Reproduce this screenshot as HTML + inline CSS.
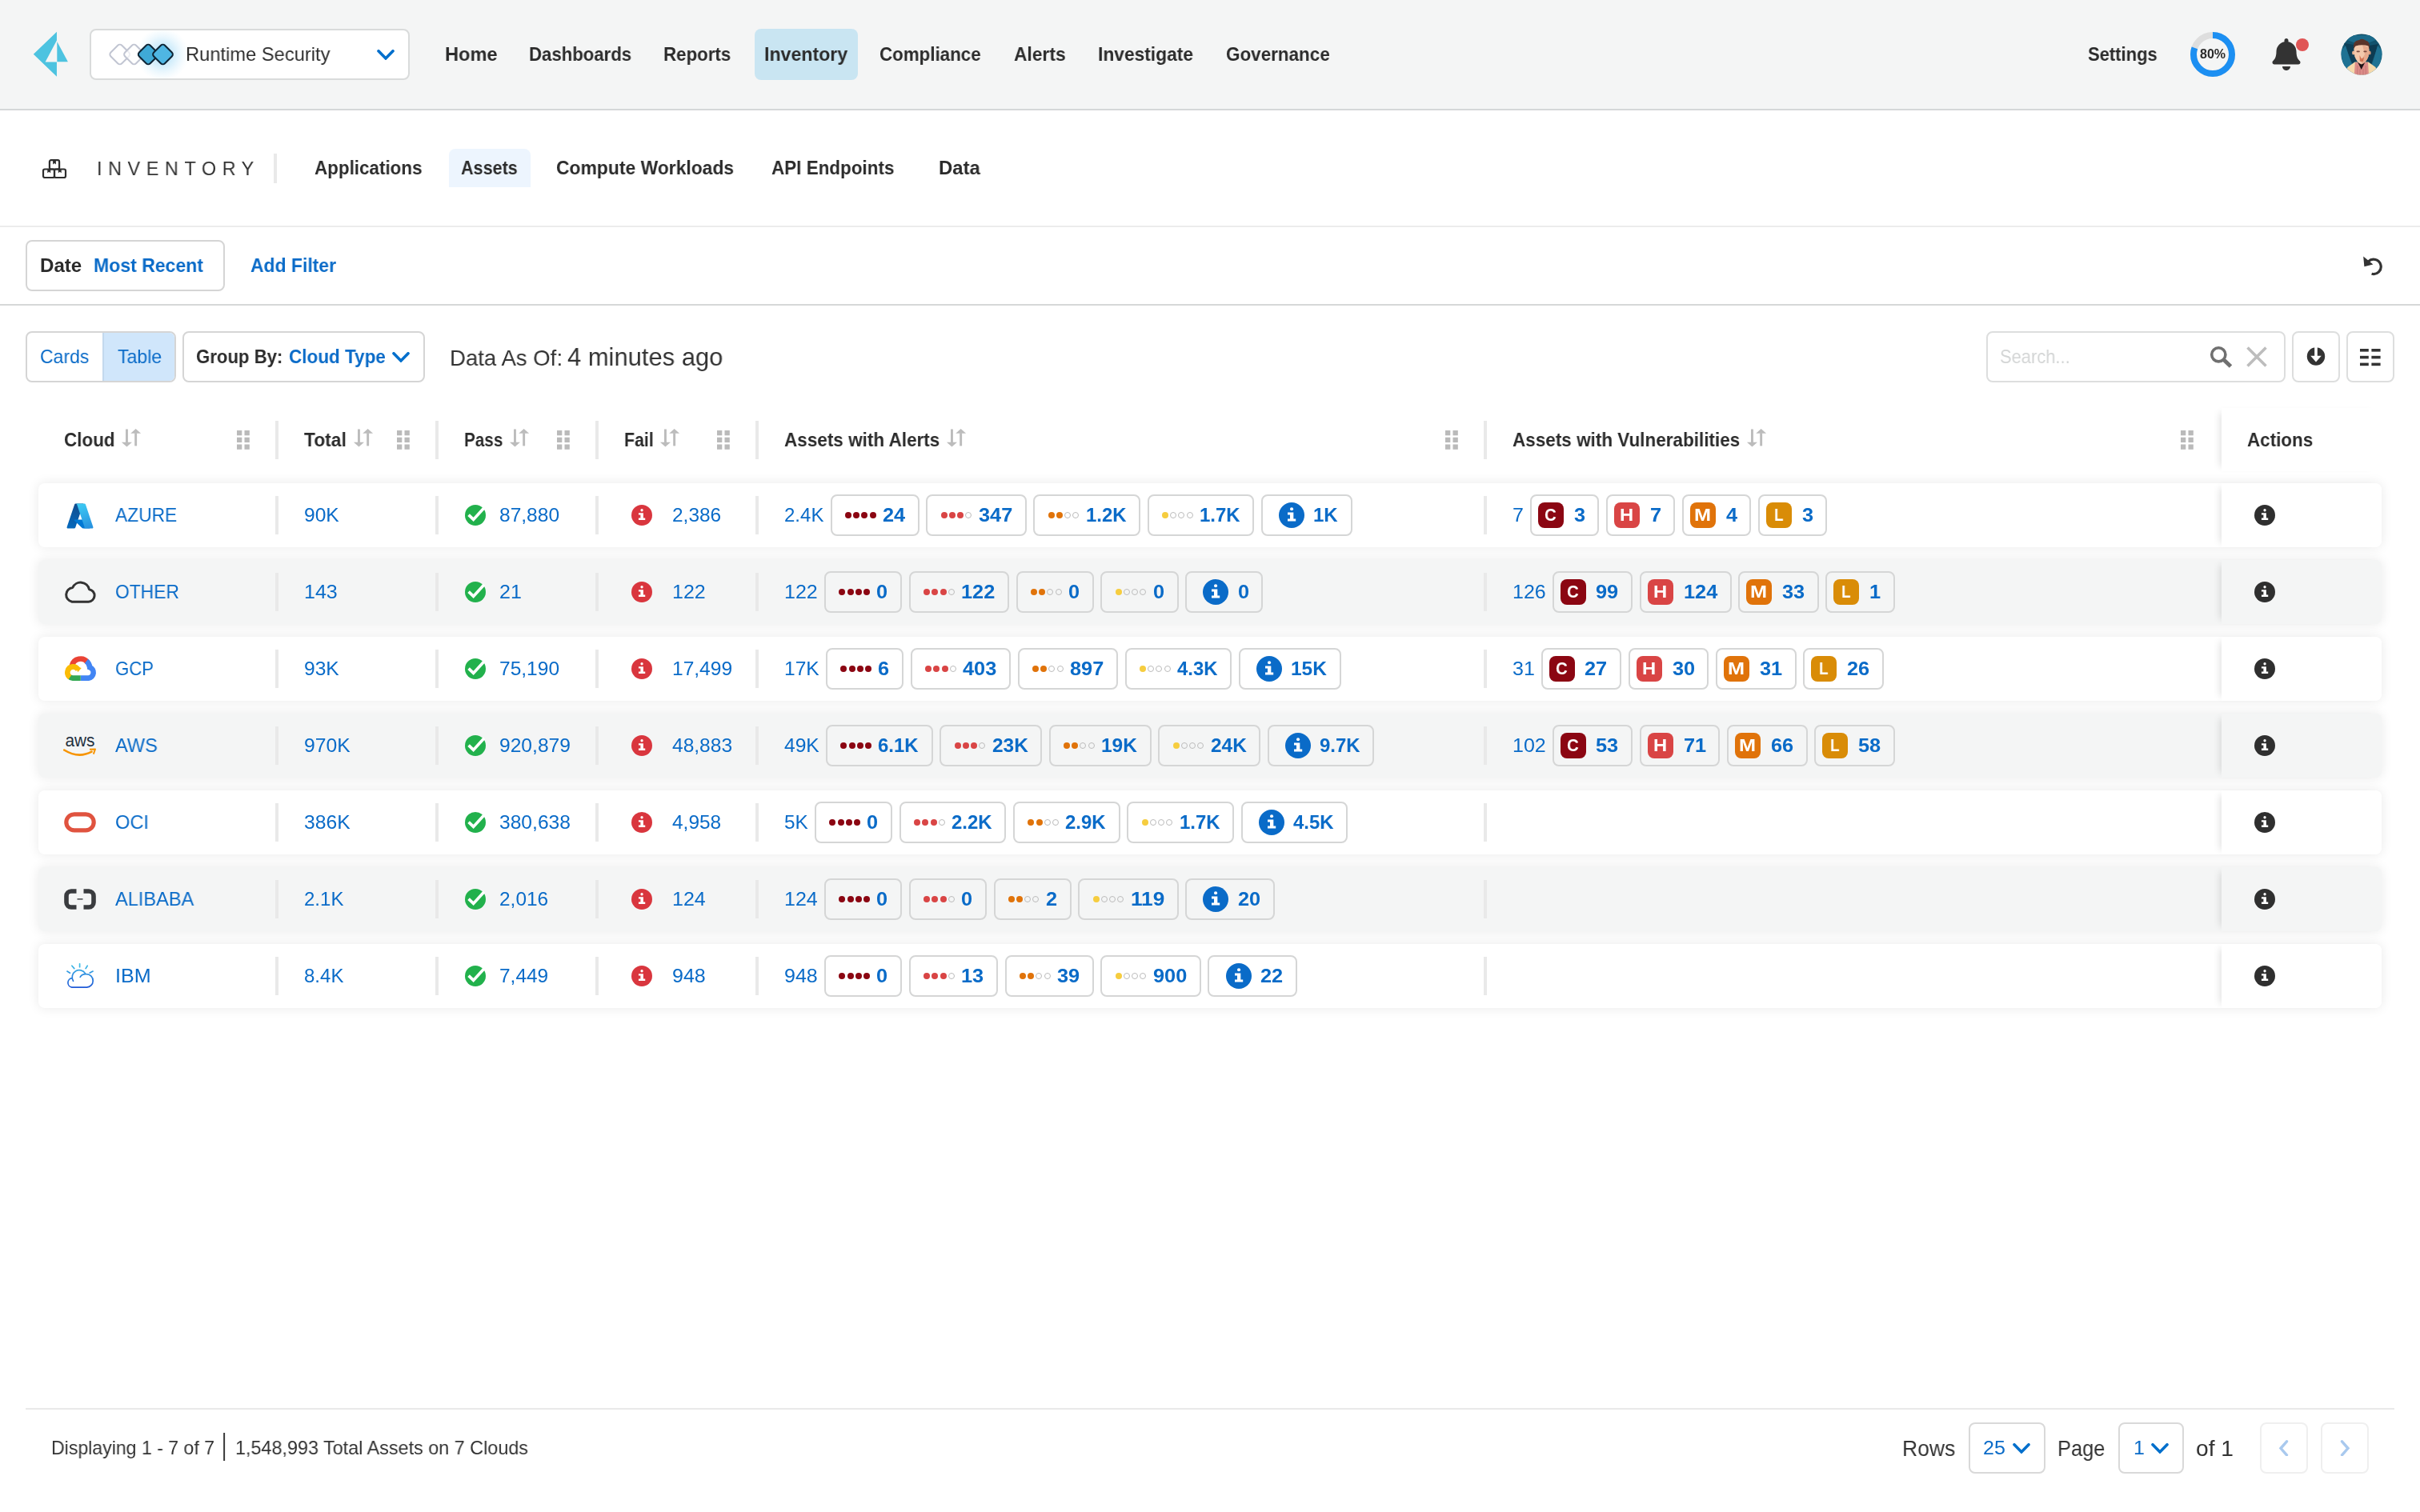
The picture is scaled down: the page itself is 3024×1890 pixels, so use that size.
<!DOCTYPE html>
<html lang="en"><head><meta charset="utf-8"><title>Inventory - Assets</title>
<style>
*{box-sizing:border-box;margin:0;padding:0}
html,body{width:3024px;height:1890px;overflow:hidden;background:#fff}
@media (max-width:1600px){html{zoom:.5}}
body{font-family:"Liberation Sans",sans-serif;font-size:24px;color:#333;position:relative;-webkit-font-smoothing:antialiased}
a{color:inherit;text-decoration:none}
.t{display:inline-block;white-space:nowrap;line-height:1.2;flex:none;position:relative;top:0.8px;left:0.6px}
.t>i{display:inline-block;font-style:normal;transform-origin:0 50%;will-change:transform}
.abs{position:absolute}
.fx{display:flex;align-items:center}
svg{display:block;flex:none}
.box{position:absolute;border:2px solid #d6d7d7;border-radius:8px;background:#fff}
/* top bar */
.top{position:absolute;left:0;top:0;width:3024px;height:138px;background:#f4f5f5;border-bottom:2px solid #d5d7d8}
.top .logo{position:absolute;left:40px;top:38px}
.product{left:112px;top:36px;width:400px;height:64px;border-color:#d9dbdb}
.product .diamonds{position:absolute;left:0;top:0}
.navi{position:absolute;top:36px;height:64px;display:flex;align-items:center}
.navi.on{background:#c9e5f2;border-radius:8px}
.dot{position:absolute;left:2869px;top:48px;width:16px;height:16px;border-radius:50%;background:#e05555}
/* sub nav */
.subnav{position:absolute;left:0;top:138px;width:3024px;height:146px;border-bottom:2px solid #ececec;background:#fff}
.subnav .it{position:absolute;top:48px;height:48px;display:flex;align-items:center}
.subnav .it.on{background:#edf5fe;border-radius:8px 8px 0 0}
.vsep{position:absolute;width:4px;background:#e9e9e9}
/* filter bar */
.filterbar{position:absolute;left:0;top:284px;width:3024px;height:98px;border-bottom:2px solid #d6d8d8;background:#fff}
/* toolbar */
.toolbar{position:absolute;left:0;top:382px;width:3024px;height:128px}
.seg{position:absolute;top:0;height:60px;display:flex;align-items:center}
/* table */
.thead{position:absolute;left:48px;top:510px;width:2928px;height:80px}
.th{position:absolute;top:0;height:80px;display:flex;align-items:center}
.th .sort{margin-left:9.5px;margin-top:-7px;overflow:visible}
.th .drag{position:absolute;top:28px}
.row{position:absolute;left:48px;width:2928px;height:80px;border-radius:8px;background:#fff;box-shadow:0 0 14px 1px rgba(0,0,0,.08)}
.row.alt{background:#f4f5f5}
.cell{position:absolute;top:0;height:80px;display:flex;align-items:center}
.row .vsep{top:16px;height:48px}
.thead .vsep{top:16px;height:48px}
.bd{display:flex;align-items:center;height:52px;border:2px solid #d5d6d6;border-radius:8px;margin-left:8.6px;padding:0 16.3px 0 16.4px;flex:none}
.dots{display:flex;align-items:center;width:46.4px;flex:none}
.dots b{display:block;width:8px;height:8px;border-radius:50%;margin-right:2.2px;flex:none}
.dots b.h{background:transparent;border:1.7px solid #bcbcbc}
.bd .ci{margin-left:3.8px;margin-right:10.6px}
.bd.v{padding-left:8px}
.sq{width:32px;height:32px;border-radius:8px;margin-right:12px;display:flex;align-items:center;justify-content:center;color:#fff;flex:none}
.act{position:absolute;left:2728px;top:0;width:200px;height:80px;background:inherit;border-radius:0 8px 8px 0;box-shadow:-8px 0 10px -6px rgba(0,0,0,.12)}
.thead .act{top:0;height:79px;background:#fff}
/* footer */
.foot{position:absolute;left:32px;top:1760px;width:2960px;height:130px;border-top:2px solid #e9e9e9}
.foot .fi{position:absolute;top:16px;height:64px;display:flex;align-items:center}
</style></head>
<body>
<header class="top">
<svg class="logo" width="48" height="60" viewBox="0 0 48 60"><polygon points="1.8,29.7 30.95,1.8 30.95,12.6 16.6,39.5 30.95,39.5 30.95,57.8" fill="#4dc3e0"/><polygon points="31.3,14.1 44.9,39.2 31.3,39.2" fill="#4dc3e0"/></svg>
<div class="box product"><svg class="diamonds" width="130" height="60" viewBox="0 0 130 60"><defs><radialGradient id="glow"><stop offset="0" stop-color="#6cc4f2" stop-opacity=".62"/><stop offset=".55" stop-color="#8fd3f6" stop-opacity=".28"/><stop offset="1" stop-color="#bfe6fb" stop-opacity="0"/></radialGradient></defs><circle cx="89" cy="30" r="33" fill="url(#glow)"/><rect x="25.95" y="20.20" width="19.6" height="19.6" rx="3.6" transform="rotate(45 35.75 30)" fill="rgba(255,255,255,.7)" stroke="#c1c5d2" stroke-width="2"/><rect x="43.70" y="20.20" width="19.6" height="19.6" rx="3.6" transform="rotate(45 53.5 30)" fill="rgba(255,255,255,.7)" stroke="#c1c5d2" stroke-width="2"/><rect x="61.40" y="20.20" width="19.6" height="19.6" rx="3.6" transform="rotate(45 71.2 30)" fill="#3fa9d6" stroke="#0e2435" stroke-width="2"/><rect x="79.70" y="20.20" width="19.6" height="19.6" rx="3.6" transform="rotate(45 89.5 30)" fill="#4fb6e3" stroke="#0e2435" stroke-width="2"/></svg>
<div class="abs fx" style="left:117.6px;top:0;height:60px"><span class="t" style="width:180.4px;font-size:24px;color:#2e2e2e;"><i style="transform:scaleX(0.9873)">Runtime Security</i></span></div>
<div class="abs" style="left:357px;top:24px"><svg class="chev" width="22" height="13" viewBox="0 0 22 13"><polyline points="2.0,1.8 11.0,10.9 20.0,1.8" fill="none" stroke="#006fcc" stroke-width="3.6" stroke-linecap="round" stroke-linejoin="miter"/></svg></div>
</div>
<nav>
<a class="navi" style="left:555px"><span class="t" style="width:65.6px;font-size:24px;font-weight:700;color:#2b2b2b;"><i style="transform:scaleX(0.9838)">Home</i></span></a>
<a class="navi" style="left:660px"><span class="t" style="width:128.1px;font-size:24px;font-weight:700;color:#2b2b2b;"><i style="transform:scaleX(0.9238)">Dashboards</i></span></a>
<a class="navi" style="left:828.3px"><span class="t" style="width:84.3px;font-size:24px;font-weight:700;color:#2b2b2b;"><i style="transform:scaleX(0.9295)">Reports</i></span></a>
<a class="navi on" style="left:943px;width:129px;padding-left:11.2px"><span class="t" style="width:104.1px;font-size:24px;font-weight:700;color:#2b2b2b;"><i style="transform:scaleX(0.9640)">Inventory</i></span></a>
<a class="navi" style="left:1098.8px"><span class="t" style="width:126.6px;font-size:24px;font-weight:700;color:#2b2b2b;"><i style="transform:scaleX(0.9306)">Compliance</i></span></a>
<a class="navi" style="left:1266px"><span class="t" style="width:64.6px;font-size:24px;font-weight:700;color:#2b2b2b;"><i style="transform:scaleX(0.9499)">Alerts</i></span></a>
<a class="navi" style="left:1371.5px"><span class="t" style="width:119.0px;font-size:24px;font-weight:700;color:#2b2b2b;"><i style="transform:scaleX(0.9493)">Investigate</i></span></a>
<a class="navi" style="left:1531px"><span class="t" style="width:129.7px;font-size:24px;font-weight:700;color:#2b2b2b;"><i style="transform:scaleX(0.9350)">Governance</i></span></a>
</nav>
<a class="navi" style="left:2608.8px"><span class="t" style="width:86.8px;font-size:24px;font-weight:700;color:#2b2b2b;"><i style="transform:scaleX(0.9165)">Settings</i></span></a>
<div class="abs" style="left:2737px;top:40px;width:56px;height:56px"><svg class="ring" width="56" height="56" viewBox="0 0 56 56"><circle cx="28" cy="28" r="24" fill="none" stroke="#dedede" stroke-width="8"/><circle cx="28" cy="28" r="24" fill="none" stroke="#1c8ff2" stroke-width="8" stroke-dasharray="120.64 150.80" transform="rotate(-90 28 28)"/></svg><div class="abs fx" style="left:0;top:0;width:56px;height:56px;justify-content:center"><span class="t" style="width:32.1px;font-size:16px;font-weight:700;color:#2b2b2b;top:0;left:0;"><i style="transform:scaleX(1.0006)">80%</i></span></div></div>
<div class="abs" style="left:2838.7px;top:48px"><svg class="bell" width="36" height="40" viewBox="0 0 448 512"><path fill="#333" d="M224 512c35.32 0 63.97-28.65 63.97-64H160.03c0 35.35 28.65 64 63.97 64zm215.39-149.71c-19.32-20.76-55.47-51.99-55.47-154.29 0-77.7-54.48-139.9-127.94-155.16V32c0-17.67-14.32-32-31.98-32s-31.98 14.33-31.98 32v20.84C118.56 68.1 64.08 130.3 64.08 208c0 102.3-36.15 133.53-55.47 154.29-6 6.45-8.66 14.16-8.61 21.71.11 16.4 12.98 32 32.1 32h383.8c19.12 0 32-15.6 32.1-32 .05-7.55-2.61-15.27-8.61-21.71z"/></svg></div><span class="dot"></span>
<div class="abs" style="left:2924.5px;top:42px"><svg class="avatar" width="52" height="52" viewBox="0 0 52 52"><defs><clipPath id="avc"><circle cx="26" cy="26" r="25.600"/></clipPath><linearGradient id="avg" x1="0" y1="0" x2="0" y2="1"><stop offset="0" stop-color="#0f4a63"/><stop offset="1" stop-color="#1d6f90"/></linearGradient></defs><g clip-path="url(#avc)"><rect width="52" height="52" fill="url(#avg)"/><polygon points="4,12 17,14 27,36 16,42" fill="#0e3f57"/><polygon points="47,13 35,15 26,36 37,42" fill="#0d3b52"/><polygon points="8,8 26,15 44,8 38,2 14,2" fill="#1b6a8a"/><polygon points="0,22 6,15 14,40 4,44" fill="#1f7293"/><polygon points="52,22 46,15 39,40 48,44" fill="#1f7293"/><path d="M5 52L8.500 42L17.500 35.500L34.500 35.500L43.500 42L47 52z" fill="#f6d9ab"/><path d="M16.800 52L17.800 36L34 36L35 52z" fill="#dc8c88"/><path d="M20.500 52L21 40M24 52L24 44M28 52L28 44M31.500 52L31 40" stroke="#c97a78" stroke-width="1.200" fill="none"/><path d="M21.500 36.500L25.700 45L30 36.500L29 31L22.500 31z" fill="#1d1215"/><ellipse cx="15.800" cy="24" rx="1.700" ry="2.600" fill="#e9b595"/><ellipse cx="36" cy="24" rx="1.700" ry="2.600" fill="#d99a7c"/><path d="M16.300 19Q16.300 10 25.500 10Q35.600 10 35.600 20L34.600 28.500Q31.500 37 25.800 38.600Q20.500 37 17.300 28.500z" fill="#f3c8ab"/><path d="M27 14L35 17L34.600 28.500Q31.500 37 25.800 38.600L27.500 30L30 26z" fill="#e3a284" opacity=".75"/><path d="M23.500 27L26 31.500L29 29.500L28 34.500Q26 36 23.800 34.200z" fill="#c9603f" opacity=".8"/><path d="M16 19Q14.500 8.500 23 8Q27 5.500 31 8.500Q37.500 10 35.800 20L34.500 15.500Q29 13.500 22.500 14.500L18.500 15.500z" fill="#5a342a"/><rect x="19.600" y="21.600" width="4.200" height="1.700" rx=".8" fill="#7a4a3e"/><rect x="28.400" y="21.600" width="4.200" height="1.700" rx=".8" fill="#7a4a3e"/></g></svg></div>
</header>
<div class="subnav">
<div class="abs" style="left:52px;top:59.6px"><svg class="invicon" width="32" height="26" viewBox="0 0 32 26"><g fill="none" stroke="#2e2e2e" stroke-width="2.200" stroke-linejoin="round"><rect x="2" y="13.500" width="14" height="10.500" rx="2"/><rect x="16" y="13.500" width="14" height="10.500" rx="2"/><rect x="9.900" y="2.200" width="12.200" height="11.300" rx="2"/></g><g fill="#2e2e2e"><polygon points="14.1,2.6 17.9,2.6 17.9,7.6 16.0,6.1 14.1,7.6"/><polygon points="7.3,13.8 11.2,13.8 11.2,18.3 9.25,16.8 7.3,18.3"/><polygon points="20.8,13.8 24.7,13.8 24.7,18.3 22.75,16.8 20.8,18.3"/></g></svg></div>
<div class="it" style="left:119.5px"><span class="t" style="width:203.9px;font-size:24px;color:#333;letter-spacing:7.81px;top:1.4px;left:1.2px;"><i style="transform:scaleX(0.9734)">INVENTORY</i></span></div>
<div class="vsep" style="left:342px;top:54px;height:37px"></div>
<a class="it" style="left:392.5px"><span class="t" style="width:134.5px;font-size:24px;font-weight:700;color:#2b2b2b;"><i style="transform:scaleX(0.9337)">Applications</i></span></a>
<a class="it on" style="left:561px;width:102px;padding-left:14.0px"><span class="t" style="width:70.8px;font-size:24px;font-weight:700;color:#2b2b2b;"><i style="transform:scaleX(0.8991)">Assets</i></span></a>
<a class="it" style="left:694px"><span class="t" style="width:222.1px;font-size:24px;font-weight:700;color:#2b2b2b;"><i style="transform:scaleX(0.9534)">Compute Workloads</i></span></a>
<a class="it" style="left:963.5px"><span class="t" style="width:153.3px;font-size:24px;font-weight:700;color:#2b2b2b;"><i style="transform:scaleX(0.9351)">API Endpoints</i></span></a>
<a class="it" style="left:1172px"><span class="t" style="width:51.7px;font-size:24px;font-weight:700;color:#2b2b2b;"><i style="transform:scaleX(0.9935)">Data</i></span></a>
</div>
<div class="filterbar">
<div class="box fx" style="left:32px;top:16px;width:249px;height:64px;border-color:#d5d5d5"><span class="abs fx" style="left:15.4px;top:0;height:60px"><span class="t" style="width:52.2px;font-size:24px;font-weight:700;color:#2b2b2b;"><i style="transform:scaleX(1.0041)">Date</i></span></span><span class="abs fx" style="left:82.7px;top:0;height:60px"><span class="t" style="width:137.0px;font-size:24px;font-weight:700;color:#0a6bc8;"><i style="transform:scaleX(0.9598)">Most Recent</i></span></span></div>
<a class="abs fx" style="left:312px;top:16px;height:64px"><span class="t" style="width:107.0px;font-size:24px;font-weight:700;color:#0a6bc8;"><i style="transform:scaleX(0.9552)">Add Filter</i></span></a>
<div class="abs" style="left:2951.5px;top:35.5px"><svg class="undo" width="26" height="26" viewBox="0 0 26 26"><path d="M7.500 6.900A9.200 9.200 0 1 1 11.600 22.300" fill="none" stroke="#333" stroke-width="3.200"/><polygon points="1.200,0.600 2.400,13.200 13.400,10.400" fill="#333"/></svg></div>
</div>
<div class="toolbar">
<div class="box" style="left:32px;top:32px;width:188px;height:64px;border-color:#d5d5d5;overflow:hidden"><a class="seg" style="left:0;width:94px;padding-left:15.6px"><span class="t" style="width:61.3px;font-size:24px;color:#0a6bc8;"><i style="transform:scaleX(0.9573)">Cards</i></span></a><a class="seg" style="left:94px;width:90px;background:#d0e6fb;border-left:2px solid #c3d9ee;padding-left:16.2px"><span class="t" style="width:55.1px;font-size:24px;color:#0a6bc8;"><i style="transform:scaleX(0.9611)">Table</i></span></a></div>
<div class="box" style="left:228px;top:32px;width:303px;height:64px;border-color:#d5d5d5"><span class="seg" style="left:14.6px"><span class="t" style="width:108.3px;font-size:24px;font-weight:700;color:#2b2b2b;"><i style="transform:scaleX(0.9232)">Group By:</i></span></span><span class="seg" style="left:130.2px"><span class="t" style="width:120.8px;font-size:24px;font-weight:700;color:#0a6bc8;"><i style="transform:scaleX(0.9373)">Cloud Type</i></span></span><span class="abs" style="left:260px;top:24px"><svg class="chev" width="22" height="13" viewBox="0 0 22 13"><polyline points="2.0,1.8 11.0,10.9 20.0,1.8" fill="none" stroke="#006fcc" stroke-width="3.6" stroke-linecap="round" stroke-linejoin="miter"/></svg></span></div>
<div class="abs" style="left:561.5px;top:44.7px;display:flex;align-items:baseline"><span class="t" style="width:141.0px;font-size:28px;color:#333;"><i style="transform:scaleX(0.9848)">Data As Of:</i></span><span style="width:5.6px;flex:none"></span><span class="t" style="width:194.3px;font-size:32px;color:#333;"><i style="transform:scaleX(0.9666)">4 minutes ago</i></span></div>
<div class="box" style="left:2482px;top:32px;width:374px;height:64px;border-color:#dddede"><span class="seg" style="left:14.8px"><span class="t" style="width:87.6px;font-size:24px;color:#d3d5d5;"><i style="transform:scaleX(0.9125)">Search...</i></span></span><span class="abs" style="left:277px;top:15.5px"><svg width="30" height="29" viewBox="0 0 30 29"><circle cx="11.300" cy="11.300" r="8.600" fill="none" stroke="#707070" stroke-width="3.600"/><line x1="17.800" y1="17.800" x2="26.500" y2="26" stroke="#707070" stroke-width="5" stroke-linecap="butt"/></svg></span><span class="abs" style="left:323px;top:17px"><svg width="26" height="26" viewBox="0 0 26 26"><path d="M1.500 1.500L24.500 24.500M24.500 1.500L1.500 24.500" stroke="#bdbdbd" stroke-width="3.600" fill="none"/></svg></span></div>
<div class="box" style="left:2864px;top:32px;width:60px;height:64px;border-color:#dddede"><span class="abs" style="left:15.7px;top:17.2px"><svg width="24" height="24" viewBox="0 0 24 24"><circle cx="12" cy="12.500" r="11.200" fill="#333"/><rect x="10.200" y="0" width="3.600" height="13" fill="#fff"/><polygon points="5.200,11.800 18.800,11.800 12,19.400" fill="#fff"/></svg></span></div>
<div class="box" style="left:2932px;top:32px;width:60px;height:64px;border-color:#dddede"><span class="abs" style="left:15.2px;top:19.5px"><svg width="26" height="22" viewBox="0 0 26 22"><g fill="#333"><rect x="0" y="0" width="10.800" height="3.600"/><rect x="14.400" y="0" width="11.200" height="3.600"/><rect x="0" y="8.800" width="10.800" height="3.600"/><rect x="14.400" y="8.800" width="11.200" height="3.600"/><rect x="0" y="17.600" width="10.800" height="3.600"/><rect x="14.400" y="17.600" width="11.200" height="3.600"/></g></svg></span></div>
</div>
<div class="thead">
<div class="th" style="left:31.3px"><span class="t" style="width:63.6px;font-size:24px;font-weight:700;color:#2b2b2b;"><i style="transform:scaleX(0.9348)">Cloud</i></span><svg class="sort" width="25" height="25" viewBox="0 0 25 25"><g fill="#bcbcbc"><rect x="5" y="2.500" width="2.900" height="16.800"/><polygon points="-0.100,18.800 13,18.800 6.450,24.400"/><rect x="16.200" y="7.200" width="2.900" height="16.200"/><polygon points="11.200,7.700 24.100,7.700 17.650,1.900"/></g></svg></div>
<span class="abs" style="left:248px;top:28px"><svg class="drag" width="16" height="24" viewBox="0 0 16 24"><g fill="#bababa"><rect x="0" y="0" width="6.300" height="6.300"/><rect x="9.5" y="0" width="6.300" height="6.300"/><rect x="0" y="8.75" width="6.300" height="6.300"/><rect x="9.5" y="8.75" width="6.300" height="6.300"/><rect x="0" y="17.5" width="6.300" height="6.300"/><rect x="9.5" y="17.5" width="6.300" height="6.300"/></g></svg></span>
<div class="th" style="left:331.3px"><span class="t" style="width:52.8px;font-size:24px;font-weight:700;color:#2b2b2b;"><i style="transform:scaleX(0.9499)">Total</i></span><svg class="sort" width="25" height="25" viewBox="0 0 25 25"><g fill="#bcbcbc"><rect x="5" y="2.500" width="2.900" height="16.800"/><polygon points="-0.100,18.800 13,18.800 6.450,24.400"/><rect x="16.200" y="7.200" width="2.900" height="16.200"/><polygon points="11.200,7.700 24.100,7.700 17.650,1.900"/></g></svg></div>
<span class="abs" style="left:448px;top:28px"><svg class="drag" width="16" height="24" viewBox="0 0 16 24"><g fill="#bababa"><rect x="0" y="0" width="6.300" height="6.300"/><rect x="9.5" y="0" width="6.300" height="6.300"/><rect x="0" y="8.75" width="6.300" height="6.300"/><rect x="9.5" y="8.75" width="6.300" height="6.300"/><rect x="0" y="17.5" width="6.300" height="6.300"/><rect x="9.5" y="17.5" width="6.300" height="6.300"/></g></svg></span>
<div class="th" style="left:531.3px"><span class="t" style="width:48.3px;font-size:24px;font-weight:700;color:#2b2b2b;"><i style="transform:scaleX(0.8622)">Pass</i></span><svg class="sort" width="25" height="25" viewBox="0 0 25 25"><g fill="#bcbcbc"><rect x="5" y="2.500" width="2.900" height="16.800"/><polygon points="-0.100,18.800 13,18.800 6.450,24.400"/><rect x="16.200" y="7.200" width="2.900" height="16.200"/><polygon points="11.200,7.700 24.100,7.700 17.650,1.900"/></g></svg></div>
<span class="abs" style="left:648px;top:28px"><svg class="drag" width="16" height="24" viewBox="0 0 16 24"><g fill="#bababa"><rect x="0" y="0" width="6.300" height="6.300"/><rect x="9.5" y="0" width="6.300" height="6.300"/><rect x="0" y="8.75" width="6.300" height="6.300"/><rect x="9.5" y="8.75" width="6.300" height="6.300"/><rect x="0" y="17.5" width="6.300" height="6.300"/><rect x="9.5" y="17.5" width="6.300" height="6.300"/></g></svg></span>
<div class="th" style="left:731.3px"><span class="t" style="width:36.7px;font-size:24px;font-weight:700;color:#2b2b2b;"><i style="transform:scaleX(0.8866)">Fail</i></span><svg class="sort" width="25" height="25" viewBox="0 0 25 25"><g fill="#bcbcbc"><rect x="5" y="2.500" width="2.900" height="16.800"/><polygon points="-0.100,18.800 13,18.800 6.450,24.400"/><rect x="16.200" y="7.200" width="2.900" height="16.200"/><polygon points="11.200,7.700 24.100,7.700 17.650,1.900"/></g></svg></div>
<span class="abs" style="left:848px;top:28px"><svg class="drag" width="16" height="24" viewBox="0 0 16 24"><g fill="#bababa"><rect x="0" y="0" width="6.300" height="6.300"/><rect x="9.5" y="0" width="6.300" height="6.300"/><rect x="0" y="8.75" width="6.300" height="6.300"/><rect x="9.5" y="8.75" width="6.300" height="6.300"/><rect x="0" y="17.5" width="6.300" height="6.300"/><rect x="9.5" y="17.5" width="6.300" height="6.300"/></g></svg></span>
<div class="th" style="left:931.3px"><span class="t" style="width:194.3px;font-size:24px;font-weight:700;color:#2b2b2b;"><i style="transform:scaleX(0.9377)">Assets with Alerts</i></span><svg class="sort" width="25" height="25" viewBox="0 0 25 25"><g fill="#bcbcbc"><rect x="5" y="2.500" width="2.900" height="16.800"/><polygon points="-0.100,18.800 13,18.800 6.450,24.400"/><rect x="16.200" y="7.200" width="2.900" height="16.200"/><polygon points="11.200,7.700 24.100,7.700 17.650,1.900"/></g></svg></div>
<span class="abs" style="left:1758px;top:28px"><svg class="drag" width="16" height="24" viewBox="0 0 16 24"><g fill="#bababa"><rect x="0" y="0" width="6.300" height="6.300"/><rect x="9.5" y="0" width="6.300" height="6.300"/><rect x="0" y="8.75" width="6.300" height="6.300"/><rect x="9.5" y="8.75" width="6.300" height="6.300"/><rect x="0" y="17.5" width="6.300" height="6.300"/><rect x="9.5" y="17.5" width="6.300" height="6.300"/></g></svg></span>
<div class="th" style="left:1841.5px"><span class="t" style="width:284.2px;font-size:24px;font-weight:700;color:#2b2b2b;"><i style="transform:scaleX(0.9375)">Assets with Vulnerabilities</i></span><svg class="sort" width="25" height="25" viewBox="0 0 25 25"><g fill="#bcbcbc"><rect x="5" y="2.500" width="2.900" height="16.800"/><polygon points="-0.100,18.800 13,18.800 6.450,24.400"/><rect x="16.200" y="7.200" width="2.900" height="16.200"/><polygon points="11.200,7.700 24.100,7.700 17.650,1.900"/></g></svg></div>
<span class="abs" style="left:2676.5px;top:28px"><svg class="drag" width="16" height="24" viewBox="0 0 16 24"><g fill="#bababa"><rect x="0" y="0" width="6.300" height="6.300"/><rect x="9.5" y="0" width="6.300" height="6.300"/><rect x="0" y="8.75" width="6.300" height="6.300"/><rect x="9.5" y="8.75" width="6.300" height="6.300"/><rect x="0" y="17.5" width="6.300" height="6.300"/><rect x="9.5" y="17.5" width="6.300" height="6.300"/></g></svg></span>
<div class="vsep" style="left:296px"></div>
<div class="vsep" style="left:496px"></div>
<div class="vsep" style="left:696px"></div>
<div class="vsep" style="left:896px"></div>
<div class="vsep" style="left:1806px"></div>
<div class="act"><div class="th" style="left:31.5px;top:0"><span class="t" style="width:82.2px;font-size:24px;font-weight:700;color:#2b2b2b;"><i style="transform:scaleX(0.9340)">Actions</i></span></div></div>
</div>
<div class="row" style="top:604px">
<div class="cell" style="left:32px;width:40px;justify-content:center;top:1px"><svg width="34" height="32" viewBox="3 5 90 86"><defs><linearGradient id="az1" x1="58.970" y1="12.670" x2="23.520" y2="90.400" gradientUnits="userSpaceOnUse"><stop offset="0" stop-color="#114a8b"/><stop offset="1" stop-color="#0669bc"/></linearGradient><linearGradient id="az2" x1="45.550" y1="7.050" x2="76.130" y2="88.530" gradientUnits="userSpaceOnUse"><stop offset="0" stop-color="#3ccbf4"/><stop offset="1" stop-color="#2892df"/></linearGradient></defs><path fill="url(#az1)" d="M33.338 6.544h26.038L32.346 86.633a4.152 4.152 0 0 1-3.933 2.824H8.149a4.145 4.145 0 0 1-3.928-5.470L29.404 9.368a4.152 4.152 0 0 1 3.934-2.825z"/><path fill="#0078d4" d="M71.175 60.261H29.972a1.911 1.911 0 0 0-1.303 3.308l26.476 24.712a4.171 4.171 0 0 0 2.846 1.121h23.331z"/><path fill="url(#az2)" d="M66.595 9.364a4.145 4.145 0 0 0-3.928-2.820H33.648a4.146 4.146 0 0 1 3.928 2.820l25.184 74.620a4.146 4.146 0 0 1-3.928 5.472h29.020a4.146 4.146 0 0 0 3.927-5.472z"/></svg></div>
<a class="cell" style="left:95.3px"><span class="t" style="width:77.2px;font-size:24px;color:#0a6bc8;"><i style="transform:scaleX(0.9497)">AZURE</i></span></a>
<a class="cell" style="left:331.5px"><span class="t" style="width:43.8px;font-size:24px;color:#0a6bc8;"><i style="transform:scaleX(1.0245)">90K</i></span></a>
<div class="cell" style="left:532.6px"><svg class="ci" width="26" height="26" viewBox="0 0 26 26"><circle cx="13" cy="13" r="13" fill="#22b14c"/><polyline points="4.600,12.600 10.600,18.400 24,3.800" fill="none" stroke="#fff" stroke-width="3.700"/></svg></div><a class="cell" style="left:575.6px"><span class="t" style="width:75.1px;font-size:24px;color:#0a6bc8;"><i style="transform:scaleX(1.0226)">87,880</i></span></a>
<div class="cell" style="left:740.6px"><svg class="ci" width="26" height="26" viewBox="0 0 26 26"><circle cx="13" cy="13" r="13" fill="#d9363e"/><g transform="translate(13 13) scale(.9) translate(-13 -13)"><circle cx="13.050" cy="6.050" r="1.850" fill="#fff"/><path d="M8.500 9.900h6.600v7.100h2.600v2.700H8.500v-2.700h2.700v-4.500H8.500z" fill="#fff"/></g></svg></div><a class="cell" style="left:791.3px"><span class="t" style="width:61.1px;font-size:24px;color:#0a6bc8;"><i style="transform:scaleX(1.0180)">2,386</i></span></a>
<div class="cell" style="left:931.6px"><span class="t" style="width:49.4px;font-size:24px;color:#0a6bc8;"><i style="transform:scaleX(1.0006)">2.4K</i></span><span class="bd"><span class="dots"><b style="background:#8b0612"></b><b style="background:#8b0612"></b><b style="background:#8b0612"></b><b style="background:#8b0612"></b></span><span class="t" style="width:28.2px;font-size:24px;font-weight:700;color:#0a6bc8;"><i style="transform:scaleX(1.0552)">24</i></span></span><span class="bd"><span class="dots"><b style="background:#d94545"></b><b style="background:#d94545"></b><b style="background:#d94545"></b><b class="h"></b></span><span class="t" style="width:42.3px;font-size:24px;font-weight:700;color:#0a6bc8;"><i style="transform:scaleX(1.0554)">347</i></span></span><span class="bd"><span class="dots"><b style="background:#e0730a"></b><b style="background:#e0730a"></b><b class="h"></b><b class="h"></b></span><span class="t" style="width:50.6px;font-size:24px;font-weight:700;color:#0a6bc8;"><i style="transform:scaleX(0.9980)">1.2K</i></span></span><span class="bd"><span class="dots"><b style="background:#f6cd3f"></b><b class="h"></b><b class="h"></b><b class="h"></b></span><span class="t" style="width:50.6px;font-size:24px;font-weight:700;color:#0a6bc8;"><i style="transform:scaleX(0.9980)">1.7K</i></span></span><span class="bd"><svg class="ci" width="32" height="32" viewBox="0 0 26 26"><circle cx="13" cy="13" r="13" fill="#0a6bc8"/><g transform="translate(13 13) scale(.9) translate(-13 -13)"><circle cx="13.050" cy="6.050" r="1.850" fill="#fff"/><path d="M8.500 9.900h6.600v7.100h2.600v2.700H8.500v-2.700h2.700v-4.500H8.500z" fill="#fff"/></g></svg><span class="t" style="width:30.7px;font-size:24px;font-weight:700;color:#0a6bc8;"><i style="transform:scaleX(1.0017)">1K</i></span></span></div>
<div class="cell" style="left:1841.5px"><span class="t" style="width:13.9px;font-size:24px;color:#0a6bc8;"><i style="transform:scaleX(1.0421)">7</i></span><span class="bd v"><span class="sq" style="background:#8b0612"><span class="t" style="width:14.7px;font-size:22px;font-weight:700;color:#fff;top:0;left:-0.5px;"><i style="transform:scaleX(0.9274)">C</i></span></span><span class="t" style="width:14.1px;font-size:24px;font-weight:700;color:#0a6bc8;"><i style="transform:scaleX(1.0546)">3</i></span></span><span class="bd v"><span class="sq" style="background:#d94545"><span class="t" style="width:17.2px;font-size:22px;font-weight:700;color:#fff;top:0;left:-0.5px;"><i style="transform:scaleX(1.0797)">H</i></span></span><span class="t" style="width:14.1px;font-size:24px;font-weight:700;color:#0a6bc8;"><i style="transform:scaleX(1.0546)">7</i></span></span><span class="bd v"><span class="sq" style="background:#e0730a"><span class="t" style="width:21.0px;font-size:22px;font-weight:700;color:#fff;top:0;left:-0.5px;"><i style="transform:scaleX(1.1483)">M</i></span></span><span class="t" style="width:14.1px;font-size:24px;font-weight:700;color:#0a6bc8;"><i style="transform:scaleX(1.0546)">4</i></span></span><span class="bd v"><span class="sq" style="background:#d98c07"><span class="t" style="width:11.6px;font-size:22px;font-weight:700;color:#fff;top:0;left:-0.5px;"><i style="transform:scaleX(0.8604)">L</i></span></span><span class="t" style="width:14.1px;font-size:24px;font-weight:700;color:#0a6bc8;"><i style="transform:scaleX(1.0546)">3</i></span></span></div>
<div class="vsep" style="left:296px"></div>
<div class="vsep" style="left:496px"></div>
<div class="vsep" style="left:696px"></div>
<div class="vsep" style="left:896px"></div>
<div class="vsep" style="left:1806px"></div>
<div class="act"><div class="cell" style="left:41px"><svg class="ci" width="26" height="26" viewBox="0 0 26 26"><circle cx="13" cy="13" r="13" fill="#2f2f2f"/><g transform="translate(13 13) scale(.9) translate(-13 -13)"><circle cx="13.050" cy="6.050" r="1.850" fill="#fff"/><path d="M8.500 9.900h6.600v7.100h2.600v2.700H8.500v-2.700h2.700v-4.500H8.500z" fill="#fff"/></g></svg></div></div>
</div>
<div class="row alt" style="top:700px">
<div class="cell" style="left:32px;width:40px;justify-content:center;top:0px"><svg width="42" height="28" viewBox="0 0 42 28"><path d="M11 26.200H31.500a7.800 7.800 0 0 0 1-15.500A11 11 0 0 0 11.800 8.400A9 9 0 0 0 11 26.200z" fill="none" stroke="#333" stroke-width="3" stroke-linejoin="round"/></svg></div>
<a class="cell" style="left:95.3px"><span class="t" style="width:79.8px;font-size:24px;color:#0a6bc8;"><i style="transform:scaleX(0.9505)">OTHER</i></span></a>
<a class="cell" style="left:331.5px"><span class="t" style="width:41.8px;font-size:24px;color:#0a6bc8;"><i style="transform:scaleX(1.0429)">143</i></span></a>
<div class="cell" style="left:532.6px"><svg class="ci" width="26" height="26" viewBox="0 0 26 26"><circle cx="13" cy="13" r="13" fill="#22b14c"/><polyline points="4.600,12.600 10.600,18.400 24,3.800" fill="none" stroke="#fff" stroke-width="3.700"/></svg></div><a class="cell" style="left:575.6px"><span class="t" style="width:27.8px;font-size:24px;color:#0a6bc8;"><i style="transform:scaleX(1.0427)">21</i></span></a>
<div class="cell" style="left:740.6px"><svg class="ci" width="26" height="26" viewBox="0 0 26 26"><circle cx="13" cy="13" r="13" fill="#d9363e"/><g transform="translate(13 13) scale(.9) translate(-13 -13)"><circle cx="13.050" cy="6.050" r="1.850" fill="#fff"/><path d="M8.500 9.900h6.600v7.100h2.600v2.700H8.500v-2.700h2.700v-4.500H8.500z" fill="#fff"/></g></svg></div><a class="cell" style="left:791.3px"><span class="t" style="width:41.8px;font-size:24px;color:#0a6bc8;"><i style="transform:scaleX(1.0429)">122</i></span></a>
<div class="cell" style="left:931.6px"><span class="t" style="width:41.8px;font-size:24px;color:#0a6bc8;"><i style="transform:scaleX(1.0429)">122</i></span><span class="bd"><span class="dots"><b style="background:#8b0612"></b><b style="background:#8b0612"></b><b style="background:#8b0612"></b><b style="background:#8b0612"></b></span><span class="t" style="width:14.1px;font-size:24px;font-weight:700;color:#0a6bc8;"><i style="transform:scaleX(1.0546)">0</i></span></span><span class="bd"><span class="dots"><b style="background:#d94545"></b><b style="background:#d94545"></b><b style="background:#d94545"></b><b class="h"></b></span><span class="t" style="width:42.3px;font-size:24px;font-weight:700;color:#0a6bc8;"><i style="transform:scaleX(1.0554)">122</i></span></span><span class="bd"><span class="dots"><b style="background:#e0730a"></b><b style="background:#e0730a"></b><b class="h"></b><b class="h"></b></span><span class="t" style="width:14.1px;font-size:24px;font-weight:700;color:#0a6bc8;"><i style="transform:scaleX(1.0546)">0</i></span></span><span class="bd"><span class="dots"><b style="background:#f6cd3f"></b><b class="h"></b><b class="h"></b><b class="h"></b></span><span class="t" style="width:14.1px;font-size:24px;font-weight:700;color:#0a6bc8;"><i style="transform:scaleX(1.0546)">0</i></span></span><span class="bd"><svg class="ci" width="32" height="32" viewBox="0 0 26 26"><circle cx="13" cy="13" r="13" fill="#0a6bc8"/><g transform="translate(13 13) scale(.9) translate(-13 -13)"><circle cx="13.050" cy="6.050" r="1.850" fill="#fff"/><path d="M8.500 9.900h6.600v7.100h2.600v2.700H8.500v-2.700h2.700v-4.500H8.500z" fill="#fff"/></g></svg><span class="t" style="width:14.1px;font-size:24px;font-weight:700;color:#0a6bc8;"><i style="transform:scaleX(1.0546)">0</i></span></span></div>
<div class="cell" style="left:1841.5px"><span class="t" style="width:41.8px;font-size:24px;color:#0a6bc8;"><i style="transform:scaleX(1.0429)">126</i></span><span class="bd v"><span class="sq" style="background:#8b0612"><span class="t" style="width:14.7px;font-size:22px;font-weight:700;color:#fff;top:0;left:-0.5px;"><i style="transform:scaleX(0.9274)">C</i></span></span><span class="t" style="width:28.2px;font-size:24px;font-weight:700;color:#0a6bc8;"><i style="transform:scaleX(1.0552)">99</i></span></span><span class="bd v"><span class="sq" style="background:#d94545"><span class="t" style="width:17.2px;font-size:22px;font-weight:700;color:#fff;top:0;left:-0.5px;"><i style="transform:scaleX(1.0797)">H</i></span></span><span class="t" style="width:42.3px;font-size:24px;font-weight:700;color:#0a6bc8;"><i style="transform:scaleX(1.0554)">124</i></span></span><span class="bd v"><span class="sq" style="background:#e0730a"><span class="t" style="width:21.0px;font-size:22px;font-weight:700;color:#fff;top:0;left:-0.5px;"><i style="transform:scaleX(1.1483)">M</i></span></span><span class="t" style="width:28.2px;font-size:24px;font-weight:700;color:#0a6bc8;"><i style="transform:scaleX(1.0552)">33</i></span></span><span class="bd v"><span class="sq" style="background:#d98c07"><span class="t" style="width:11.6px;font-size:22px;font-weight:700;color:#fff;top:0;left:-0.5px;"><i style="transform:scaleX(0.8604)">L</i></span></span><span class="t" style="width:14.1px;font-size:24px;font-weight:700;color:#0a6bc8;"><i style="transform:scaleX(1.0546)">1</i></span></span></div>
<div class="vsep" style="left:296px"></div>
<div class="vsep" style="left:496px"></div>
<div class="vsep" style="left:696px"></div>
<div class="vsep" style="left:896px"></div>
<div class="vsep" style="left:1806px"></div>
<div class="act"><div class="cell" style="left:41px"><svg class="ci" width="26" height="26" viewBox="0 0 26 26"><circle cx="13" cy="13" r="13" fill="#2f2f2f"/><g transform="translate(13 13) scale(.9) translate(-13 -13)"><circle cx="13.050" cy="6.050" r="1.850" fill="#fff"/><path d="M8.500 9.900h6.600v7.100h2.600v2.700H8.500v-2.700h2.700v-4.500H8.500z" fill="#fff"/></g></svg></div></div>
</div>
<div class="row" style="top:796px">
<div class="cell" style="left:33px;width:40px;justify-content:center;top:-1.5px"><svg width="41.5" height="33.2" viewBox="0 0 40 32"><g fill="none" stroke-width="6.400" stroke-linecap="butt"><path d="M9.500 13.500A10.800 10.800 0 0 1 28.500 9.500" stroke="#ea4335"/><path d="M27 8A10.800 10.800 0 0 1 31 15.500A6.800 6.800 0 0 1 29.500 28.600H20" stroke="#4285f4"/><path d="M20 28.600H10.500A6.800 6.800 0 0 1 6 26.500" stroke="#34a853"/><path d="M7.200 27.500A7 7 0 0 1 10.500 14.800A7 7 0 0 1 17 18.500" stroke="#fbbc05"/></g><polygon points="14.500,14.500 21,16.500 16.500,21.500" fill="#fbbc05"/></svg></div>
<a class="cell" style="left:95.3px"><span class="t" style="width:48.0px;font-size:24px;color:#0a6bc8;"><i style="transform:scaleX(0.9225)">GCP</i></span></a>
<a class="cell" style="left:331.5px"><span class="t" style="width:43.8px;font-size:24px;color:#0a6bc8;"><i style="transform:scaleX(1.0245)">93K</i></span></a>
<div class="cell" style="left:532.6px"><svg class="ci" width="26" height="26" viewBox="0 0 26 26"><circle cx="13" cy="13" r="13" fill="#22b14c"/><polyline points="4.600,12.600 10.600,18.400 24,3.800" fill="none" stroke="#fff" stroke-width="3.700"/></svg></div><a class="cell" style="left:575.6px"><span class="t" style="width:75.1px;font-size:24px;color:#0a6bc8;"><i style="transform:scaleX(1.0226)">75,190</i></span></a>
<div class="cell" style="left:740.6px"><svg class="ci" width="26" height="26" viewBox="0 0 26 26"><circle cx="13" cy="13" r="13" fill="#d9363e"/><g transform="translate(13 13) scale(.9) translate(-13 -13)"><circle cx="13.050" cy="6.050" r="1.850" fill="#fff"/><path d="M8.500 9.900h6.600v7.100h2.600v2.700H8.500v-2.700h2.700v-4.500H8.500z" fill="#fff"/></g></svg></div><a class="cell" style="left:791.3px"><span class="t" style="width:75.1px;font-size:24px;color:#0a6bc8;"><i style="transform:scaleX(1.0226)">17,499</i></span></a>
<div class="cell" style="left:931.6px"><span class="t" style="width:43.8px;font-size:24px;color:#0a6bc8;"><i style="transform:scaleX(1.0245)">17K</i></span><span class="bd"><span class="dots"><b style="background:#8b0612"></b><b style="background:#8b0612"></b><b style="background:#8b0612"></b><b style="background:#8b0612"></b></span><span class="t" style="width:14.1px;font-size:24px;font-weight:700;color:#0a6bc8;"><i style="transform:scaleX(1.0546)">6</i></span></span><span class="bd"><span class="dots"><b style="background:#d94545"></b><b style="background:#d94545"></b><b style="background:#d94545"></b><b class="h"></b></span><span class="t" style="width:42.3px;font-size:24px;font-weight:700;color:#0a6bc8;"><i style="transform:scaleX(1.0554)">403</i></span></span><span class="bd"><span class="dots"><b style="background:#e0730a"></b><b style="background:#e0730a"></b><b class="h"></b><b class="h"></b></span><span class="t" style="width:42.3px;font-size:24px;font-weight:700;color:#0a6bc8;"><i style="transform:scaleX(1.0554)">897</i></span></span><span class="bd"><span class="dots"><b style="background:#f6cd3f"></b><b class="h"></b><b class="h"></b><b class="h"></b></span><span class="t" style="width:50.6px;font-size:24px;font-weight:700;color:#0a6bc8;"><i style="transform:scaleX(0.9980)">4.3K</i></span></span><span class="bd"><svg class="ci" width="32" height="32" viewBox="0 0 26 26"><circle cx="13" cy="13" r="13" fill="#0a6bc8"/><g transform="translate(13 13) scale(.9) translate(-13 -13)"><circle cx="13.050" cy="6.050" r="1.850" fill="#fff"/><path d="M8.500 9.900h6.600v7.100h2.600v2.700H8.500v-2.700h2.700v-4.500H8.500z" fill="#fff"/></g></svg><span class="t" style="width:44.8px;font-size:24px;font-weight:700;color:#0a6bc8;"><i style="transform:scaleX(1.0181)">15K</i></span></span></div>
<div class="cell" style="left:1841.5px"><span class="t" style="width:27.8px;font-size:24px;color:#0a6bc8;"><i style="transform:scaleX(1.0427)">31</i></span><span class="bd v"><span class="sq" style="background:#8b0612"><span class="t" style="width:14.7px;font-size:22px;font-weight:700;color:#fff;top:0;left:-0.5px;"><i style="transform:scaleX(0.9274)">C</i></span></span><span class="t" style="width:28.2px;font-size:24px;font-weight:700;color:#0a6bc8;"><i style="transform:scaleX(1.0552)">27</i></span></span><span class="bd v"><span class="sq" style="background:#d94545"><span class="t" style="width:17.2px;font-size:22px;font-weight:700;color:#fff;top:0;left:-0.5px;"><i style="transform:scaleX(1.0797)">H</i></span></span><span class="t" style="width:28.2px;font-size:24px;font-weight:700;color:#0a6bc8;"><i style="transform:scaleX(1.0552)">30</i></span></span><span class="bd v"><span class="sq" style="background:#e0730a"><span class="t" style="width:21.0px;font-size:22px;font-weight:700;color:#fff;top:0;left:-0.5px;"><i style="transform:scaleX(1.1483)">M</i></span></span><span class="t" style="width:28.2px;font-size:24px;font-weight:700;color:#0a6bc8;"><i style="transform:scaleX(1.0552)">31</i></span></span><span class="bd v"><span class="sq" style="background:#d98c07"><span class="t" style="width:11.6px;font-size:22px;font-weight:700;color:#fff;top:0;left:-0.5px;"><i style="transform:scaleX(0.8604)">L</i></span></span><span class="t" style="width:28.2px;font-size:24px;font-weight:700;color:#0a6bc8;"><i style="transform:scaleX(1.0552)">26</i></span></span></div>
<div class="vsep" style="left:296px"></div>
<div class="vsep" style="left:496px"></div>
<div class="vsep" style="left:696px"></div>
<div class="vsep" style="left:896px"></div>
<div class="vsep" style="left:1806px"></div>
<div class="act"><div class="cell" style="left:41px"><svg class="ci" width="26" height="26" viewBox="0 0 26 26"><circle cx="13" cy="13" r="13" fill="#2f2f2f"/><g transform="translate(13 13) scale(.9) translate(-13 -13)"><circle cx="13.050" cy="6.050" r="1.850" fill="#fff"/><path d="M8.500 9.900h6.600v7.100h2.600v2.700H8.500v-2.700h2.700v-4.500H8.500z" fill="#fff"/></g></svg></div></div>
</div>
<div class="row alt" style="top:892px">
<div class="cell" style="left:32px;width:40px;justify-content:center;top:1.5px"><svg width="42" height="28" viewBox="0 0 42 28"><text x="21" y="12.600" text-anchor="middle" font-family="Liberation Sans, sans-serif" font-size="22.500" font-weight="400" fill="#232f3e" textLength="37" lengthAdjust="spacingAndGlyphs">aws</text><path d="M1.200 17.500Q19 28.500 35.500 19.600" fill="none" stroke="#f79400" stroke-width="2.600" stroke-linecap="round"/><path d="M33 16.800L40 16.500L37.800 22.600" fill="none" stroke="#f79400" stroke-width="2" stroke-linejoin="round"/></svg></div>
<a class="cell" style="left:95.3px"><span class="t" style="width:53.0px;font-size:24px;color:#0a6bc8;"><i style="transform:scaleX(0.9849)">AWS</i></span></a>
<a class="cell" style="left:331.5px"><span class="t" style="width:57.7px;font-size:24px;color:#0a6bc8;"><i style="transform:scaleX(1.0287)">970K</i></span></a>
<div class="cell" style="left:532.6px"><svg class="ci" width="26" height="26" viewBox="0 0 26 26"><circle cx="13" cy="13" r="13" fill="#22b14c"/><polyline points="4.600,12.600 10.600,18.400 24,3.800" fill="none" stroke="#fff" stroke-width="3.700"/></svg></div><a class="cell" style="left:575.6px"><span class="t" style="width:89.0px;font-size:24px;color:#0a6bc8;"><i style="transform:scaleX(1.0254)">920,879</i></span></a>
<div class="cell" style="left:740.6px"><svg class="ci" width="26" height="26" viewBox="0 0 26 26"><circle cx="13" cy="13" r="13" fill="#d9363e"/><g transform="translate(13 13) scale(.9) translate(-13 -13)"><circle cx="13.050" cy="6.050" r="1.850" fill="#fff"/><path d="M8.500 9.900h6.600v7.100h2.600v2.700H8.500v-2.700h2.700v-4.500H8.500z" fill="#fff"/></g></svg></div><a class="cell" style="left:791.3px"><span class="t" style="width:75.1px;font-size:24px;color:#0a6bc8;"><i style="transform:scaleX(1.0226)">48,883</i></span></a>
<div class="cell" style="left:931.6px"><span class="t" style="width:43.8px;font-size:24px;color:#0a6bc8;"><i style="transform:scaleX(1.0245)">49K</i></span><span class="bd"><span class="dots"><b style="background:#8b0612"></b><b style="background:#8b0612"></b><b style="background:#8b0612"></b><b style="background:#8b0612"></b></span><span class="t" style="width:50.6px;font-size:24px;font-weight:700;color:#0a6bc8;"><i style="transform:scaleX(0.9980)">6.1K</i></span></span><span class="bd"><span class="dots"><b style="background:#d94545"></b><b style="background:#d94545"></b><b style="background:#d94545"></b><b class="h"></b></span><span class="t" style="width:44.8px;font-size:24px;font-weight:700;color:#0a6bc8;"><i style="transform:scaleX(1.0181)">23K</i></span></span><span class="bd"><span class="dots"><b style="background:#e0730a"></b><b style="background:#e0730a"></b><b class="h"></b><b class="h"></b></span><span class="t" style="width:44.8px;font-size:24px;font-weight:700;color:#0a6bc8;"><i style="transform:scaleX(1.0181)">19K</i></span></span><span class="bd"><span class="dots"><b style="background:#f6cd3f"></b><b class="h"></b><b class="h"></b><b class="h"></b></span><span class="t" style="width:44.8px;font-size:24px;font-weight:700;color:#0a6bc8;"><i style="transform:scaleX(1.0181)">24K</i></span></span><span class="bd"><svg class="ci" width="32" height="32" viewBox="0 0 26 26"><circle cx="13" cy="13" r="13" fill="#0a6bc8"/><g transform="translate(13 13) scale(.9) translate(-13 -13)"><circle cx="13.050" cy="6.050" r="1.850" fill="#fff"/><path d="M8.500 9.900h6.600v7.100h2.600v2.700H8.500v-2.700h2.700v-4.500H8.500z" fill="#fff"/></g></svg><span class="t" style="width:50.6px;font-size:24px;font-weight:700;color:#0a6bc8;"><i style="transform:scaleX(0.9980)">9.7K</i></span></span></div>
<div class="cell" style="left:1841.5px"><span class="t" style="width:41.8px;font-size:24px;color:#0a6bc8;"><i style="transform:scaleX(1.0429)">102</i></span><span class="bd v"><span class="sq" style="background:#8b0612"><span class="t" style="width:14.7px;font-size:22px;font-weight:700;color:#fff;top:0;left:-0.5px;"><i style="transform:scaleX(0.9274)">C</i></span></span><span class="t" style="width:28.2px;font-size:24px;font-weight:700;color:#0a6bc8;"><i style="transform:scaleX(1.0552)">53</i></span></span><span class="bd v"><span class="sq" style="background:#d94545"><span class="t" style="width:17.2px;font-size:22px;font-weight:700;color:#fff;top:0;left:-0.5px;"><i style="transform:scaleX(1.0797)">H</i></span></span><span class="t" style="width:28.2px;font-size:24px;font-weight:700;color:#0a6bc8;"><i style="transform:scaleX(1.0552)">71</i></span></span><span class="bd v"><span class="sq" style="background:#e0730a"><span class="t" style="width:21.0px;font-size:22px;font-weight:700;color:#fff;top:0;left:-0.5px;"><i style="transform:scaleX(1.1483)">M</i></span></span><span class="t" style="width:28.2px;font-size:24px;font-weight:700;color:#0a6bc8;"><i style="transform:scaleX(1.0552)">66</i></span></span><span class="bd v"><span class="sq" style="background:#d98c07"><span class="t" style="width:11.6px;font-size:22px;font-weight:700;color:#fff;top:0;left:-0.5px;"><i style="transform:scaleX(0.8604)">L</i></span></span><span class="t" style="width:28.2px;font-size:24px;font-weight:700;color:#0a6bc8;"><i style="transform:scaleX(1.0552)">58</i></span></span></div>
<div class="vsep" style="left:296px"></div>
<div class="vsep" style="left:496px"></div>
<div class="vsep" style="left:696px"></div>
<div class="vsep" style="left:896px"></div>
<div class="vsep" style="left:1806px"></div>
<div class="act"><div class="cell" style="left:41px"><svg class="ci" width="26" height="26" viewBox="0 0 26 26"><circle cx="13" cy="13" r="13" fill="#2f2f2f"/><g transform="translate(13 13) scale(.9) translate(-13 -13)"><circle cx="13.050" cy="6.050" r="1.850" fill="#fff"/><path d="M8.500 9.900h6.600v7.100h2.600v2.700H8.500v-2.700h2.700v-4.500H8.500z" fill="#fff"/></g></svg></div></div>
</div>
<div class="row" style="top:988px">
<div class="cell" style="left:32px;width:40px;justify-content:center;top:0px"><svg width="40" height="26" viewBox="0 0 40 26"><rect x="2.800" y="2.800" width="34.400" height="20" rx="10" fill="none" stroke="#e0533f" stroke-width="5.200"/></svg></div>
<a class="cell" style="left:95.3px"><span class="t" style="width:42.0px;font-size:24px;color:#0a6bc8;"><i style="transform:scaleX(0.9835)">OCI</i></span></a>
<a class="cell" style="left:331.5px"><span class="t" style="width:57.7px;font-size:24px;color:#0a6bc8;"><i style="transform:scaleX(1.0287)">386K</i></span></a>
<div class="cell" style="left:532.6px"><svg class="ci" width="26" height="26" viewBox="0 0 26 26"><circle cx="13" cy="13" r="13" fill="#22b14c"/><polyline points="4.600,12.600 10.600,18.400 24,3.800" fill="none" stroke="#fff" stroke-width="3.700"/></svg></div><a class="cell" style="left:575.6px"><span class="t" style="width:89.0px;font-size:24px;color:#0a6bc8;"><i style="transform:scaleX(1.0254)">380,638</i></span></a>
<div class="cell" style="left:740.6px"><svg class="ci" width="26" height="26" viewBox="0 0 26 26"><circle cx="13" cy="13" r="13" fill="#d9363e"/><g transform="translate(13 13) scale(.9) translate(-13 -13)"><circle cx="13.050" cy="6.050" r="1.850" fill="#fff"/><path d="M8.500 9.900h6.600v7.100h2.600v2.700H8.500v-2.700h2.700v-4.500H8.500z" fill="#fff"/></g></svg></div><a class="cell" style="left:791.3px"><span class="t" style="width:61.1px;font-size:24px;color:#0a6bc8;"><i style="transform:scaleX(1.0180)">4,958</i></span></a>
<div class="cell" style="left:931.6px"><span class="t" style="width:29.8px;font-size:24px;color:#0a6bc8;"><i style="transform:scaleX(1.0160)">5K</i></span><span class="bd"><span class="dots"><b style="background:#8b0612"></b><b style="background:#8b0612"></b><b style="background:#8b0612"></b><b style="background:#8b0612"></b></span><span class="t" style="width:14.1px;font-size:24px;font-weight:700;color:#0a6bc8;"><i style="transform:scaleX(1.0546)">0</i></span></span><span class="bd"><span class="dots"><b style="background:#d94545"></b><b style="background:#d94545"></b><b style="background:#d94545"></b><b class="h"></b></span><span class="t" style="width:50.6px;font-size:24px;font-weight:700;color:#0a6bc8;"><i style="transform:scaleX(0.9980)">2.2K</i></span></span><span class="bd"><span class="dots"><b style="background:#e0730a"></b><b style="background:#e0730a"></b><b class="h"></b><b class="h"></b></span><span class="t" style="width:50.6px;font-size:24px;font-weight:700;color:#0a6bc8;"><i style="transform:scaleX(0.9980)">2.9K</i></span></span><span class="bd"><span class="dots"><b style="background:#f6cd3f"></b><b class="h"></b><b class="h"></b><b class="h"></b></span><span class="t" style="width:50.6px;font-size:24px;font-weight:700;color:#0a6bc8;"><i style="transform:scaleX(0.9980)">1.7K</i></span></span><span class="bd"><svg class="ci" width="32" height="32" viewBox="0 0 26 26"><circle cx="13" cy="13" r="13" fill="#0a6bc8"/><g transform="translate(13 13) scale(.9) translate(-13 -13)"><circle cx="13.050" cy="6.050" r="1.850" fill="#fff"/><path d="M8.500 9.900h6.600v7.100h2.600v2.700H8.500v-2.700h2.700v-4.500H8.500z" fill="#fff"/></g></svg><span class="t" style="width:50.6px;font-size:24px;font-weight:700;color:#0a6bc8;"><i style="transform:scaleX(0.9980)">4.5K</i></span></span></div>
<div class="vsep" style="left:296px"></div>
<div class="vsep" style="left:496px"></div>
<div class="vsep" style="left:696px"></div>
<div class="vsep" style="left:896px"></div>
<div class="vsep" style="left:1806px"></div>
<div class="act"><div class="cell" style="left:41px"><svg class="ci" width="26" height="26" viewBox="0 0 26 26"><circle cx="13" cy="13" r="13" fill="#2f2f2f"/><g transform="translate(13 13) scale(.9) translate(-13 -13)"><circle cx="13.050" cy="6.050" r="1.850" fill="#fff"/><path d="M8.500 9.900h6.600v7.100h2.600v2.700H8.500v-2.700h2.700v-4.500H8.500z" fill="#fff"/></g></svg></div></div>
</div>
<div class="row alt" style="top:1084px">
<div class="cell" style="left:32px;width:40px;justify-content:center;top:0px"><svg width="40" height="26" viewBox="0 0 40 26"><g fill="none" stroke="#3a3c3f" stroke-width="5.600"><path d="M15.500 3H9A6 6 0 0 0 3 9V17A6 6 0 0 0 9 23H15.500"/><path d="M24.500 3H31A6 6 0 0 1 37 9V17A6 6 0 0 1 31 23H24.500"/></g><rect x="16.500" y="12.200" width="7" height="1.400" fill="#3a3c3f"/></svg></div>
<a class="cell" style="left:95.3px"><span class="t" style="width:98.3px;font-size:24px;color:#0a6bc8;"><i style="transform:scaleX(0.9828)">ALIBABA</i></span></a>
<a class="cell" style="left:331.5px"><span class="t" style="width:49.4px;font-size:24px;color:#0a6bc8;"><i style="transform:scaleX(1.0006)">2.1K</i></span></a>
<div class="cell" style="left:532.6px"><svg class="ci" width="26" height="26" viewBox="0 0 26 26"><circle cx="13" cy="13" r="13" fill="#22b14c"/><polyline points="4.600,12.600 10.600,18.400 24,3.800" fill="none" stroke="#fff" stroke-width="3.700"/></svg></div><a class="cell" style="left:575.6px"><span class="t" style="width:61.1px;font-size:24px;color:#0a6bc8;"><i style="transform:scaleX(1.0180)">2,016</i></span></a>
<div class="cell" style="left:740.6px"><svg class="ci" width="26" height="26" viewBox="0 0 26 26"><circle cx="13" cy="13" r="13" fill="#d9363e"/><g transform="translate(13 13) scale(.9) translate(-13 -13)"><circle cx="13.050" cy="6.050" r="1.850" fill="#fff"/><path d="M8.500 9.900h6.600v7.100h2.600v2.700H8.500v-2.700h2.700v-4.500H8.500z" fill="#fff"/></g></svg></div><a class="cell" style="left:791.3px"><span class="t" style="width:41.8px;font-size:24px;color:#0a6bc8;"><i style="transform:scaleX(1.0429)">124</i></span></a>
<div class="cell" style="left:931.6px"><span class="t" style="width:41.8px;font-size:24px;color:#0a6bc8;"><i style="transform:scaleX(1.0429)">124</i></span><span class="bd"><span class="dots"><b style="background:#8b0612"></b><b style="background:#8b0612"></b><b style="background:#8b0612"></b><b style="background:#8b0612"></b></span><span class="t" style="width:14.1px;font-size:24px;font-weight:700;color:#0a6bc8;"><i style="transform:scaleX(1.0546)">0</i></span></span><span class="bd"><span class="dots"><b style="background:#d94545"></b><b style="background:#d94545"></b><b style="background:#d94545"></b><b class="h"></b></span><span class="t" style="width:14.1px;font-size:24px;font-weight:700;color:#0a6bc8;"><i style="transform:scaleX(1.0546)">0</i></span></span><span class="bd"><span class="dots"><b style="background:#e0730a"></b><b style="background:#e0730a"></b><b class="h"></b><b class="h"></b></span><span class="t" style="width:14.1px;font-size:24px;font-weight:700;color:#0a6bc8;"><i style="transform:scaleX(1.0546)">2</i></span></span><span class="bd"><span class="dots"><b style="background:#f6cd3f"></b><b class="h"></b><b class="h"></b><b class="h"></b></span><span class="t" style="width:42.3px;font-size:24px;font-weight:700;color:#0a6bc8;"><i style="transform:scaleX(1.0916)">119</i></span></span><span class="bd"><svg class="ci" width="32" height="32" viewBox="0 0 26 26"><circle cx="13" cy="13" r="13" fill="#0a6bc8"/><g transform="translate(13 13) scale(.9) translate(-13 -13)"><circle cx="13.050" cy="6.050" r="1.850" fill="#fff"/><path d="M8.500 9.900h6.600v7.100h2.600v2.700H8.500v-2.700h2.700v-4.500H8.500z" fill="#fff"/></g></svg><span class="t" style="width:28.2px;font-size:24px;font-weight:700;color:#0a6bc8;"><i style="transform:scaleX(1.0552)">20</i></span></span></div>
<div class="vsep" style="left:296px"></div>
<div class="vsep" style="left:496px"></div>
<div class="vsep" style="left:696px"></div>
<div class="vsep" style="left:896px"></div>
<div class="vsep" style="left:1806px"></div>
<div class="act"><div class="cell" style="left:41px"><svg class="ci" width="26" height="26" viewBox="0 0 26 26"><circle cx="13" cy="13" r="13" fill="#2f2f2f"/><g transform="translate(13 13) scale(.9) translate(-13 -13)"><circle cx="13.050" cy="6.050" r="1.850" fill="#fff"/><path d="M8.500 9.900h6.600v7.100h2.600v2.700H8.500v-2.700h2.700v-4.500H8.500z" fill="#fff"/></g></svg></div></div>
</div>
<div class="row" style="top:1180px">
<div class="cell" style="left:32px;width:40px;justify-content:center;top:0px"><svg width="35" height="32" viewBox="0 0 35 32"><defs><linearGradient id="ibmg" gradientUnits="userSpaceOnUse" x1="0" y1="31" x2="0" y2="0"><stop offset="0" stop-color="#1f57d6"/><stop offset=".55" stop-color="#2f8fe0"/><stop offset="1" stop-color="#45c6e8"/></linearGradient></defs><g fill="none" stroke="url(#ibmg)" stroke-width="1.700" stroke-linecap="round"><path d="M8.500 22.300A8.600 8.600 0 1 1 23.600 12.900"/><path d="M17.200 17.300C18.600 14.800 21.600 13.300 25 13.600A8.300 8.300 0 0 1 33.200 22.200A8 8 0 0 1 25.500 30.100H6.700A5.800 5.800 0 0 1 7.300 18.600"/><path d="M16.600 0.800V4.700M6.900 3.200L9.800 6.600M26.200 3.200L24.100 6.600M0.900 10.100L4.400 12.200M33.100 10.100L29.300 12.100"/></g></svg></div>
<a class="cell" style="left:95.3px"><span class="t" style="width:44.5px;font-size:24px;color:#0a6bc8;"><i style="transform:scaleX(1.0436)">IBM</i></span></a>
<a class="cell" style="left:331.5px"><span class="t" style="width:49.4px;font-size:24px;color:#0a6bc8;"><i style="transform:scaleX(1.0006)">8.4K</i></span></a>
<div class="cell" style="left:532.6px"><svg class="ci" width="26" height="26" viewBox="0 0 26 26"><circle cx="13" cy="13" r="13" fill="#22b14c"/><polyline points="4.600,12.600 10.600,18.400 24,3.800" fill="none" stroke="#fff" stroke-width="3.700"/></svg></div><a class="cell" style="left:575.6px"><span class="t" style="width:61.1px;font-size:24px;color:#0a6bc8;"><i style="transform:scaleX(1.0180)">7,449</i></span></a>
<div class="cell" style="left:740.6px"><svg class="ci" width="26" height="26" viewBox="0 0 26 26"><circle cx="13" cy="13" r="13" fill="#d9363e"/><g transform="translate(13 13) scale(.9) translate(-13 -13)"><circle cx="13.050" cy="6.050" r="1.850" fill="#fff"/><path d="M8.500 9.900h6.600v7.100h2.600v2.700H8.500v-2.700h2.700v-4.500H8.500z" fill="#fff"/></g></svg></div><a class="cell" style="left:791.3px"><span class="t" style="width:41.8px;font-size:24px;color:#0a6bc8;"><i style="transform:scaleX(1.0429)">948</i></span></a>
<div class="cell" style="left:931.6px"><span class="t" style="width:41.8px;font-size:24px;color:#0a6bc8;"><i style="transform:scaleX(1.0429)">948</i></span><span class="bd"><span class="dots"><b style="background:#8b0612"></b><b style="background:#8b0612"></b><b style="background:#8b0612"></b><b style="background:#8b0612"></b></span><span class="t" style="width:14.1px;font-size:24px;font-weight:700;color:#0a6bc8;"><i style="transform:scaleX(1.0546)">0</i></span></span><span class="bd"><span class="dots"><b style="background:#d94545"></b><b style="background:#d94545"></b><b style="background:#d94545"></b><b class="h"></b></span><span class="t" style="width:28.2px;font-size:24px;font-weight:700;color:#0a6bc8;"><i style="transform:scaleX(1.0552)">13</i></span></span><span class="bd"><span class="dots"><b style="background:#e0730a"></b><b style="background:#e0730a"></b><b class="h"></b><b class="h"></b></span><span class="t" style="width:28.2px;font-size:24px;font-weight:700;color:#0a6bc8;"><i style="transform:scaleX(1.0552)">39</i></span></span><span class="bd"><span class="dots"><b style="background:#f6cd3f"></b><b class="h"></b><b class="h"></b><b class="h"></b></span><span class="t" style="width:42.3px;font-size:24px;font-weight:700;color:#0a6bc8;"><i style="transform:scaleX(1.0554)">900</i></span></span><span class="bd"><svg class="ci" width="32" height="32" viewBox="0 0 26 26"><circle cx="13" cy="13" r="13" fill="#0a6bc8"/><g transform="translate(13 13) scale(.9) translate(-13 -13)"><circle cx="13.050" cy="6.050" r="1.850" fill="#fff"/><path d="M8.500 9.900h6.600v7.100h2.600v2.700H8.500v-2.700h2.700v-4.500H8.500z" fill="#fff"/></g></svg><span class="t" style="width:28.2px;font-size:24px;font-weight:700;color:#0a6bc8;"><i style="transform:scaleX(1.0552)">22</i></span></span></div>
<div class="vsep" style="left:296px"></div>
<div class="vsep" style="left:496px"></div>
<div class="vsep" style="left:696px"></div>
<div class="vsep" style="left:896px"></div>
<div class="vsep" style="left:1806px"></div>
<div class="act"><div class="cell" style="left:41px"><svg class="ci" width="26" height="26" viewBox="0 0 26 26"><circle cx="13" cy="13" r="13" fill="#2f2f2f"/><g transform="translate(13 13) scale(.9) translate(-13 -13)"><circle cx="13.050" cy="6.050" r="1.850" fill="#fff"/><path d="M8.500 9.900h6.600v7.100h2.600v2.700H8.500v-2.700h2.700v-4.500H8.500z" fill="#fff"/></g></svg></div></div>
</div>
<footer class="foot">
<div class="fi" style="left:31.1px"><span class="t" style="width:204.0px;font-size:24px;color:#333;"><i style="transform:scaleX(0.9618)">Displaying 1 - 7 of 7</i></span></div>
<div class="fi" style="left:244.6px"><span class="t" style="width:6.2px;font-size:36px;color:#333;top:-4px;"><i style="transform:scaleX(0.6624)">|</i></span></div>
<div class="fi" style="left:261.1px"><span class="t" style="width:366.0px;font-size:24px;color:#333;"><i style="transform:scaleX(0.9738)">1,548,993 Total Assets on 7 Clouds</i></span></div>
<div class="fi" style="left:2344px"><span class="t" style="width:66.3px;font-size:28px;color:#333;"><i style="transform:scaleX(0.9471)">Rows</i></span></div>
<div class="box" style="left:2428px;top:16px;width:96px;height:64px;border-color:#d9d9d9"><span class="seg" style="left:15.5px"><span class="t" style="width:27.8px;font-size:24px;color:#0a6bc8;"><i style="transform:scaleX(1.0427)">25</i></span></span><span class="abs" style="left:53px;top:24px"><svg class="chev" width="22" height="13" viewBox="0 0 22 13"><polyline points="2.0,1.8 11.0,10.9 20.0,1.8" fill="none" stroke="#006fcc" stroke-width="3.6" stroke-linecap="round" stroke-linejoin="miter"/></svg></span></div>
<div class="fi" style="left:2538.5px"><span class="t" style="width:59.4px;font-size:28px;color:#333;"><i style="transform:scaleX(0.9083)">Page</i></span></div>
<div class="box" style="left:2615px;top:16px;width:82px;height:64px;border-color:#d9d9d9"><span class="seg" style="left:16.5px"><span class="t" style="width:13.9px;font-size:24px;color:#0a6bc8;"><i style="transform:scaleX(1.0421)">1</i></span></span><span class="abs" style="left:39px;top:24px"><svg class="chev" width="22" height="13" viewBox="0 0 22 13"><polyline points="2.0,1.8 11.0,10.9 20.0,1.8" fill="none" stroke="#006fcc" stroke-width="3.6" stroke-linecap="round" stroke-linejoin="miter"/></svg></span></div>
<div class="fi" style="left:2711.3px"><span class="t" style="width:47.0px;font-size:28px;color:#333;"><i style="transform:scaleX(1.0064)">of 1</i></span></div>
<div class="box" style="left:2792px;top:16px;width:60px;height:64px;border-color:#efefef"><span class="abs" style="left:20.5px;top:19.6px"><svg width="14" height="20.6" viewBox="0 0 14 20.6"><polyline points="10.500,1.800 3,10.300 10.500,18.800" fill="none" stroke="#a9c9ee" stroke-width="3.400" stroke-linecap="round" stroke-linejoin="miter"/></svg></span></div>
<div class="box" style="left:2868px;top:16px;width:60px;height:64px;border-color:#efefef"><span class="abs" style="left:21.3px;top:19.6px"><svg width="14" height="20.6" viewBox="0 0 14 20.6"><polyline points="3.500,1.800 11,10.300 3.500,18.800" fill="none" stroke="#a9c9ee" stroke-width="3.400" stroke-linecap="round" stroke-linejoin="miter"/></svg></span></div>
</footer>
</body></html>
